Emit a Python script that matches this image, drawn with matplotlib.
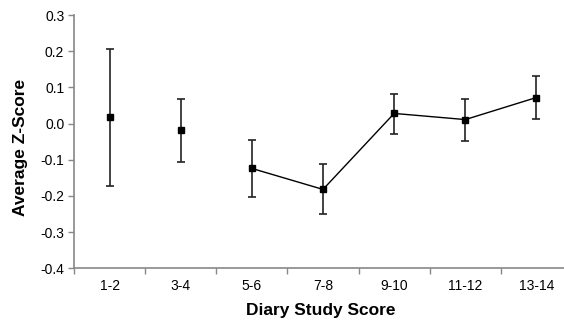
import matplotlib
matplotlib.use("Agg")
import matplotlib.pyplot as plt
import numpy as np

plt.rcParams['font.family'] = ['Liberation Sans', 'DejaVu Sans']

categories = ["1-2", "3-4", "5-6", "7-8", "9-10", "11-12", "13-14"]
means = [0.017, -0.019, -0.124, -0.182, 0.028, 0.011, 0.072]
err_low = [-0.173, -0.107, -0.204, -0.251, -0.028, -0.048, 0.012]
err_high = [0.205, 0.067, -0.045, -0.112, 0.082, 0.067, 0.132]
y_ticks = [-0.4, -0.3, -0.2, -0.1, 0.0, 0.1, 0.2, 0.3]
y_tick_labels = ["-0.4", "-0.3", "-0.2", "-0.1", "0.0", "0.1", "0.2", "0.3"]
connected_from = 2  # line connects points from "5-6" onwards

fig = plt.figure(figsize=(5.64, 3.24), dpi=100)
ax = fig.add_axes([74/564, 1-268.3/324, (572-74)/564, (268.3-15)/324])

x = np.arange(len(categories))
m = np.array(means)
lo = m - np.array(err_low)
hi = np.array(err_high) - m

ax.errorbar(x, m, yerr=[lo, hi], fmt='none', ecolor='#222222', elinewidth=1.2,
            capsize=3, capthick=1.2, zorder=2)
ax.plot(x[connected_from:], m[connected_from:], color='black', lw=1.0, zorder=3)
ax.plot(x, m, ls='none', marker='s', ms=5, color='black', zorder=4)

ax.set_xlim(-0.5, len(categories) - 0.5)
ax.set_ylim(-0.4, 0.3)
ax.set_yticks(y_ticks)
ax.set_yticklabels(y_tick_labels)

ax.set_xticks(np.arange(-0.5, len(categories), 1.0))
ax.set_xticklabels([])
ax.set_xticks(x, minor=True)
ax.set_xticklabels(categories, minor=True)
ax.tick_params(axis='x', which='minor', length=0, pad=8, labelsize=10)
ax.tick_params(axis='x', which='major', length=4, color='#888888', width=1)
ax.tick_params(axis='y', length=4, color='#888888', width=1, labelsize=10, pad=3)

for s in ['top', 'right']:
    ax.spines[s].set_visible(False)
for s in ['left', 'bottom']:
    ax.spines[s].set_color('#888888')
    ax.spines[s].set_linewidth(1.2)

fig.text(21/564, 1-147/324, "Average Z-Score", rotation=90, ha='center', va='center',
         fontsize=12.5, fontweight='bold')
fig.text(321/564, 1-311/324, "Diary Study Score", ha='center', va='center',
         fontsize=12.5, fontweight='bold')

fig.savefig("out.png", dpi=100)
